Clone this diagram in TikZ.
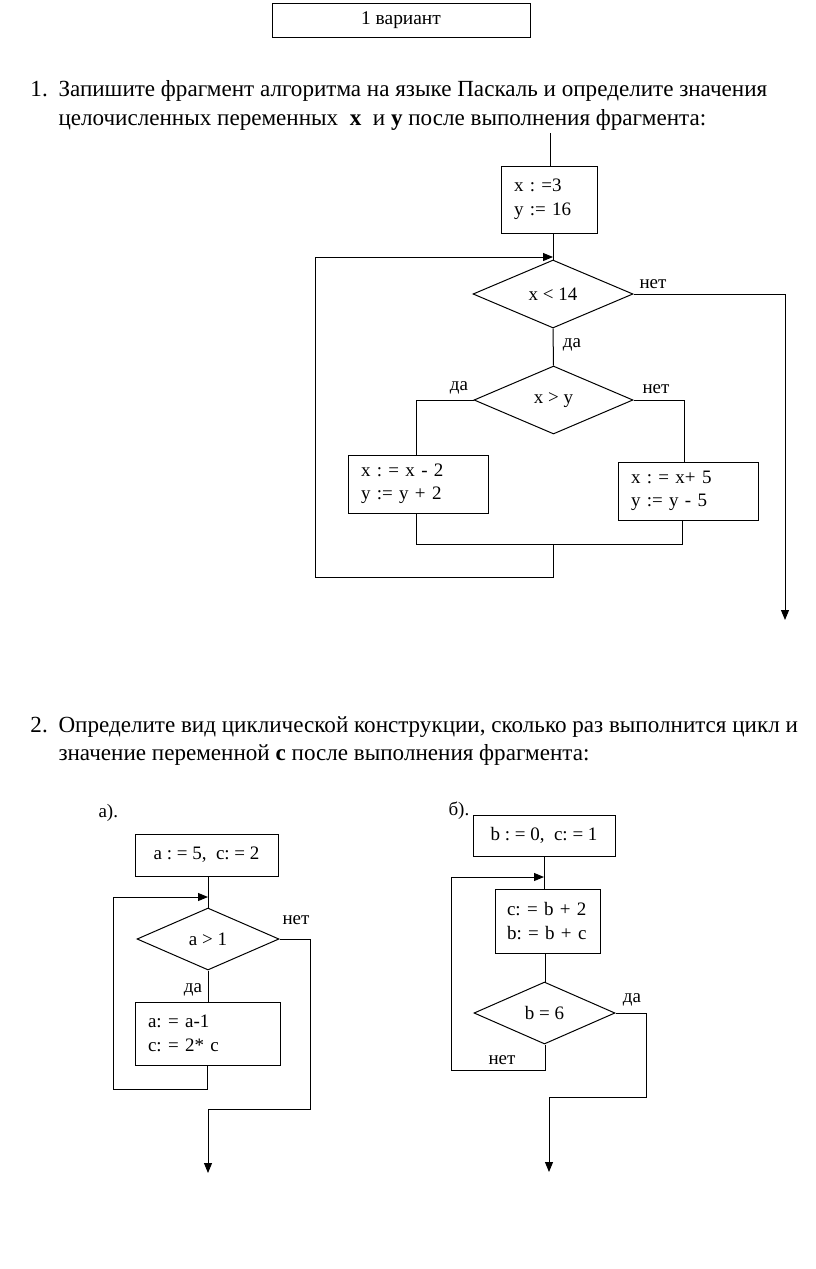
\documentclass[tikz,border=0pt]{standalone}
\usepackage{fontspec}
\setmainfont{Liberation Serif}
\usetikzlibrary{shapes.geometric,arrows.meta}
\newcommand\fbody{\fontsize{23.1}{29}\selectfont}
\newcommand\fdia{\fontsize{19}{23.5}\selectfont}
\newcommand\ftitle{\fontsize{19.4}{22}\selectfont}
\frenchspacing
\begin{document}
\begin{tikzpicture}[x=1pt,y=-1pt,line width=1pt,
  box/.style={draw,rectangle,align=left,inner xsep=13pt,inner ysep=0pt,font=\fdia},
  sbox/.style={draw,rectangle,inner sep=0pt,font=\fdia},
  dia/.style={draw,diamond,inner sep=0pt,font=\fdia},
  lab/.style={inner sep=0pt,font=\fdia},
  txt/.style={inner sep=0pt,anchor=base west,font=\fbody},
  arr/.style={-{Triangle[length=10pt,width=8pt]}}]
\useasboundingbox (0,0) rectangle (816,1269);
% title
\node[draw,minimum width=258pt,minimum height=34pt,inner sep=0pt,font=\ftitle] (title) at (401,20) {1 вариант};
% task 1
\node[txt] (n1) at (30,96) {1.};
\node[txt] (t1a) at (58,96) {Запишите фрагмент алгоритма на языке Паскаль и определите значения};
\node[txt] (t1b) at (58,125) {целочисленных переменных\ \ \textbf{x}\ \ и \textbf{y} после выполнения фрагмента:};
% flowchart 1
\coordinate (s1) at (550,133);
\node[box,text width=70pt,minimum height=67pt] (b1) at (549,199.5) {x : =3\\y := 16};
\node[dia,minimum width=160pt,minimum height=68pt] (d1) at (553,294) {x < 14};
\node[dia,minimum width=159pt,minimum height=68pt] (d2) at (553.5,400) {x > y};
\node[box,text width=114pt,minimum height=58pt] (b2) at (418,484) {x : = x - 2\\y := y + 2};
\node[box,text width=114pt,minimum height=58pt] (b3) at (688,491) {x : = x+ 5\\y := y - 5};
\node[lab] (l1) at (653,284) {нет};
\node[lab] (l2) at (572,345) {да};
\node[lab] (l3) at (459,388) {да};
\node[lab] (l4) at (656,389) {нет};
\coordinate (e1) at (785,620);
\coordinate (m1) at (553,257);
\coordinate (j1) at (553,544);
\draw (s1) -- (b1.north -| s1);
\draw (b1.south -| d1.north) -- (d1.north);
\draw[arr] (315,257) -- (m1);
\draw (d1.east) -- (785,294) -- (785,300);
\draw[arr] (785,294) -- (e1);
\draw (d1.south) -- (d2.north);
\draw (d2.west) -- (416,400) -- (b2.north -| 416,0);
\draw (d2.east) -- (684,400) -- (b3.north -| 684,0);
\draw (b2.south -| 416,0) -- (416,544) -- (682,544) -- (b3.south -| 682,0);
\draw (j1) -- (553,577) -- (315,577) -- (315,257);
% task 2
\node[txt] (n2) at (30,732) {2.};
\node[txt] (t2a) at (58,732) {Определите вид циклической конструкции, сколько раз выполнится цикл и};
\node[txt] (t2b) at (58,760) {значение переменной \textbf{с} после выполнения фрагмента:};
% a)
\node[txt,font=\fdia] (la) at (98,817) {а).};
\node[sbox,minimum width=143pt,minimum height=42pt] (a1) at (206.5,855) {a : = 5,\ \ c: = 2};
\node[dia,minimum width=142pt,minimum height=62pt] (da) at (208,939) {a > 1};
\node[box,text width=119pt,minimum height=63pt] (a2) at (207.5,1033.5) {a: = a-1\\c: = 2* c};
\node[lab] (la1) at (296,920) {нет};
\node[lab] (la2) at (193,990) {да};
\coordinate (ea) at (208,1173);
\draw (a1.south -| da.north) -- (da.north);
\draw[arr] (113,897) -- (208,897);
\draw (da.south) -- (a2.north -| da.south);
\draw (a2.south -| 207,0) -- (207,1089) -- (113,1089) -- (113,897);
\draw (da.east) -- (310,939) -- (310,1109) -- (208,1109);
\draw[arr] (208,1109) -- (ea);
% b)
\node[txt,font=\fdia] (lb) at (448,815) {б).};
\node[sbox,minimum width=142pt,minimum height=41pt] (c1) at (544,835.5) {b : = 0,\ \ c: = 1};
\node[box,inner xsep=12pt,text width=81pt,minimum height=64pt] (c2) at (547.5,921) {c: = b + 2\\b: = b + c};
\node[dia,minimum width=141pt,minimum height=62pt] (db) at (544.5,1013) {b = 6};
\node[lab] (lb1) at (632,1000) {да};
\node[lab] (lb2) at (502,1060) {нет};
\coordinate (eb) at (549,1172);
\draw (c1.south -| 544,0) -- (c2.north -| 544,0);
\draw[arr] (451,877) -- (544,877);
\draw (c2.south -| 545,0) -- (db.north -| 545,0);
\draw (db.south -| 545,0) -- (545,1070) -- (451,1070) -- (451,877);
\draw (db.east) -- (646,1013) -- (646,1097) -- (549,1097);
\draw[arr] (549,1097) -- (eb);
\end{tikzpicture}
\end{document}
